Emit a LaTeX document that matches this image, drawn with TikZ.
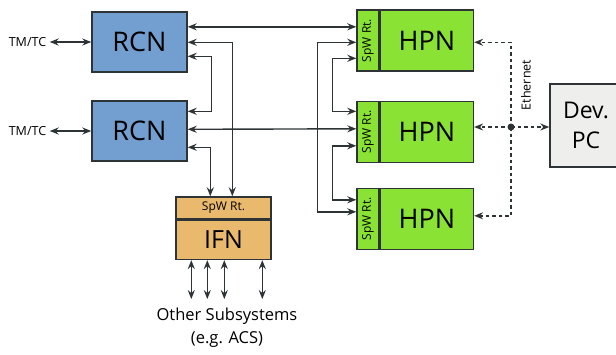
\documentclass[tikz,border=0pt]{standalone}
\usepackage{fontspec}
\setmainfont{Open Sans}
\usetikzlibrary{arrows.meta}

\definecolor{rcnblue}{HTML}{729FCF}
\definecolor{hpngreen}{HTML}{8AE234}
\definecolor{ifnorange}{HTML}{E9B96E}
\definecolor{pcgray}{HTML}{EEEEEC}
\definecolor{edge}{HTML}{2E3436}

\tikzset{
  box/.style={draw=edge,line width=1.4pt,inner sep=0pt,font=\fontsize{27}{30}\selectfont},
  rcnbox/.style={box,fill=rcnblue,minimum width=95pt,minimum height=60pt},
  hpnbox/.style={box,fill=hpngreen,minimum width=93pt,minimum height=61pt},
  rtstrip/.style={box,fill=hpngreen,minimum width=22pt,minimum height=61pt,font=\fontsize{12}{14}\selectfont},
  link/.style={draw=edge,line width=1.4pt,{Stealth[length=9pt,width=7pt,inset=3pt]}-{Stealth[length=9pt,width=7pt,inset=3pt]}},
  eth/.style={draw=edge,line width=1.4pt,dash pattern=on 3.5pt off 3pt,-{Stealth[length=9pt,width=7pt,inset=3pt]}},
  small/.style={font=\fontsize{12.5}{14}\selectfont},
}

\begin{document}
\begin{tikzpicture}[x=1pt,y=-1pt]
  \useasboundingbox (0,0) rectangle (616,354);

  % routing control nodes
  \node[rcnbox] (rcn1) at (139.5,42) {RCN};
  \node[rcnbox] (rcn2) at (139.5,131) {RCN};
  \node[small] (tmtc1) at (27.5,42) {TM/TC};
  \node[small] (tmtc2) at (27.5,131) {TM/TC};
  \path[link] (tmtc1.east) -- (rcn1.west);
  \path[link] (tmtc2.east) -- (rcn2.west);

  % payload nodes, each with its own SpW router
  \node[rtstrip] (rt1) at (368,40.5) {\rotatebox{90}{SpW Rt.}};
  \node[hpnbox,anchor=west] (hpn1) at (rt1.east) {HPN};
  \node[rtstrip] (rt2) at (368,132) {\rotatebox{90}{SpW Rt.}};
  \node[hpnbox,anchor=west] (hpn2) at (rt2.east) {HPN};
  \node[rtstrip] (rt3) at (368,219) {\rotatebox{90}{SpW Rt.}};
  \node[hpnbox,anchor=west] (hpn3) at (rt3.east) {HPN};

  % interface node
  \node[box,fill=ifnorange,minimum width=95pt,minimum height=22pt,font=\fontsize{12}{14}\selectfont] (ifnrt) at (223.5,208) {SpW Rt.};
  \node[box,fill=ifnorange,minimum width=95pt,minimum height=39pt,font=\fontsize{25}{28}\selectfont,anchor=north] (ifn) at (ifnrt.south) {IFN};
  \node[align=center,font=\fontsize{16.5}{23}\selectfont] (others) at (227,328) {Other Subsystems\\(e.g. ACS)};
  \foreach \dx in {16,32,49,87}
    \path[link] ([xshift=\dx pt]ifn.south west) -- ++(0,39);

  % development PC
  \node[box,fill=pcgray,minimum width=72pt,minimum height=83pt,align=center,font=\fontsize{23}{30}\selectfont] (devpc) at (586,125.5) {Dev.\\PC};

  % SpaceWire links
  \path[link] ([yshift=-15.5pt]rcn1.north east) -- ([yshift=-17.5pt]rt1.north west);
  \path[link] ([yshift=-29pt]rcn2.north east) -- ([yshift=-28pt]rt2.north west);
  \path[link] ([yshift=-45pt]rcn1.north east) -- ++(24,0) |- ([yshift=-11pt]rcn2.north east);
  \path[link] ([yshift=-31pt]rcn1.north east) -| ([xshift=57pt]ifnrt.north west);
  \path[link] ([yshift=-47pt]rcn2.north east) -| ([xshift=35pt]ifnrt.north west);
  \path[link] ([yshift=-33pt]rt1.north west) -- ++(-39,0) |- ([yshift=-24pt]rt3.north west);
  \path[link] ([yshift=-49pt]rt1.north west) -- ++(-24,0) |- ([yshift=-10.5pt]rt2.north west);
  \path[link] ([yshift=-45pt]rt2.north west) -- ++(-24,0) |- ([yshift=-12pt]rt3.north west);

  % Ethernet bus to the PC
  \coordinate (hub) at (511,127);
  \path[eth] (hub) |- ([yshift=-33pt]hpn1.north east);
  \path[eth] (hub) -- (hub -| hpn2.east);
  \path[eth] (hub) |- ([yshift=-28pt]hpn3.north east);
  \path[eth] (hub) -- (hub -| devpc.west);
  \fill[edge] (hub) circle (3.5pt);
  \node[small,rotate=90] (ethlabel) at (526,85) {Ethernet};
\end{tikzpicture}
\end{document}
